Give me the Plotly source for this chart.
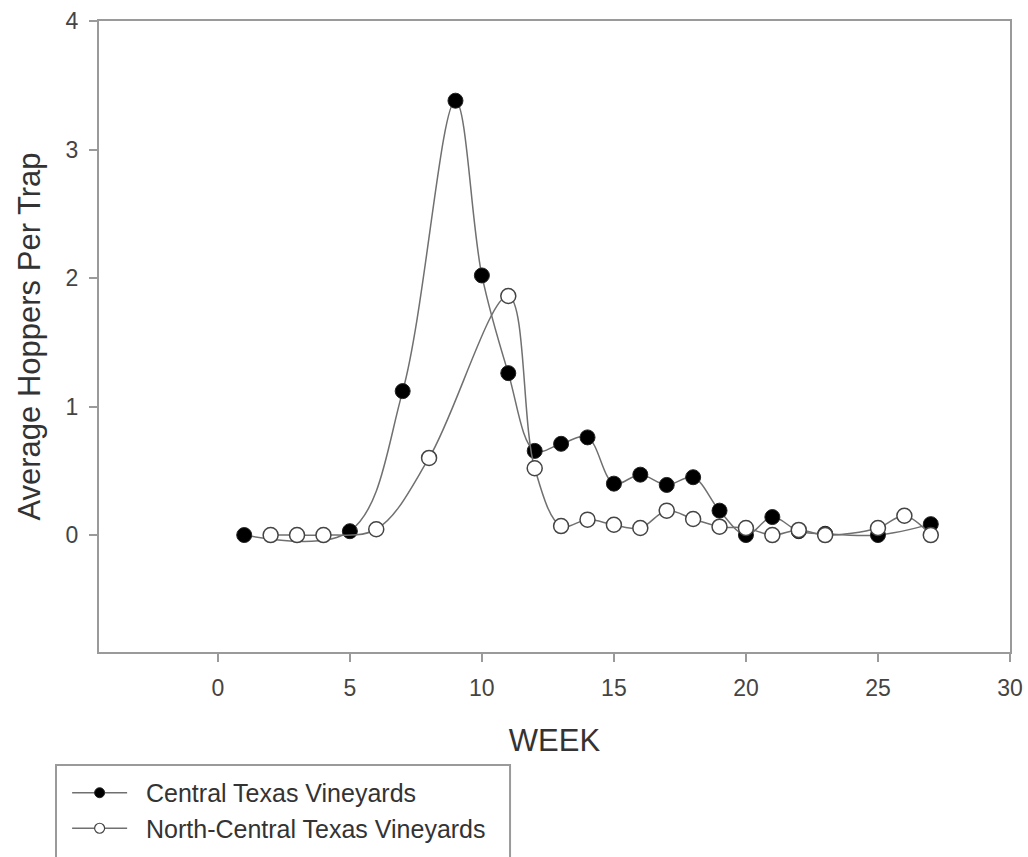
import plotly.graph_objects as go

# Central Texas Vineyards (filled circles)
central_weeks = [1, 5, 7, 9, 10, 11, 12, 13, 14, 15, 16, 17, 18, 19, 20, 21, 22, 23, 25, 27]
central_vals = [0.0, 0.03, 1.12, 3.38, 2.02, 1.26, 0.655, 0.71, 0.76, 0.40, 0.47, 0.39, 0.45, 0.19, 0.0, 0.14, 0.03, 0.01, 0.0, 0.085]

# North-Central Texas Vineyards (open circles)
north_weeks = [2, 3, 4, 6, 8, 11, 12, 13, 14, 15, 16, 17, 18, 19, 20, 21, 22, 23, 25, 26, 27]
north_vals = [0.0, 0.0, 0.0, 0.045, 0.60, 1.86, 0.52, 0.07, 0.12, 0.08, 0.055, 0.19, 0.125, 0.065, 0.055, 0.0, 0.04, 0.0, 0.055, 0.15, 0.0]

series_names = ["Central Texas Vineyards", "North-Central Texas Vineyards"]

x_ticks = [0, 5, 10, 15, 20, 25, 30]
y_ticks = [0, 1, 2, 3, 4]

LINE = "#707070"
AX = "#9a9a9a"
TXT = "#333333"
FONT = "Liberation Sans, Arial, sans-serif"
PAD = "\u00a0\u00a0"

fig = go.Figure()

fig.add_trace(go.Scatter(
    x=central_weeks, y=central_vals, mode="lines+markers",
    line=dict(color=LINE, width=1.5, shape="spline", smoothing=1.0),
    marker=dict(size=15, color="black", line=dict(color="#222222", width=1)),
    showlegend=False, name=series_names[0],
))
fig.add_trace(go.Scatter(
    x=north_weeks, y=north_vals, mode="lines+markers",
    line=dict(color=LINE, width=1.5, shape="spline", smoothing=1.0),
    marker=dict(size=15, color="white", line=dict(color="#444444", width=1.5)),
    showlegend=False, name=series_names[1],
))

# legend entries
fig.add_trace(go.Scatter(
    x=[None], y=[None], mode="lines+markers", name=PAD + series_names[0],
    line=dict(color=LINE, width=1.5),
    marker=dict(size=10, color="black", line=dict(color="#222222", width=1)),
))
fig.add_trace(go.Scatter(
    x=[None], y=[None], mode="lines+markers", name=PAD + series_names[1],
    line=dict(color=LINE, width=1.5),
    marker=dict(size=10, color="white", line=dict(color="#444444", width=1.2)),
))

fig.update_layout(
    width=1028, height=857,
    margin=dict(l=99, r=18, t=21, b=205, autoexpand=False),
    paper_bgcolor="white", plot_bgcolor="white",
    font=dict(family=FONT, color=TXT, size=22),
    xaxis=dict(
        range=[-4.5, 30], tickvals=x_ticks, ticks="outside", ticklen=8, tickwidth=2,
        tickcolor=AX, showline=True, linecolor=AX, linewidth=2, mirror=True,
        showgrid=False, zeroline=False, tickfont=dict(size=23, color="#444"),
        ticklabelstandoff=6,
        title=dict(text="WEEK", font=dict(size=31, color=TXT), standoff=30),
    ),
    yaxis=dict(
        range=[-0.91, 4.0], tickvals=y_ticks, ticks="outside", ticklen=8, tickwidth=2,
        tickcolor=AX, showline=True, linecolor=AX, linewidth=2, mirror=True,
        showgrid=False, zeroline=False, tickfont=dict(size=23, color="#444"),
        ticklabelstandoff=6,
        title=dict(text="Average Hoppers Per Trap", font=dict(size=31, color=TXT), standoff=16),
    ),
    legend=dict(
        x=-0.035, y=-0.187, xanchor="left", yanchor="top",
        bgcolor="rgba(0,0,0,0)", borderwidth=0,
        font=dict(size=25, color=TXT), itemwidth=55, tracegroupgap=0,
    ),
    shapes=[dict(
        type="rect", xref="paper", yref="paper",
        x0=-0.0472, x1=0.4512, y0=-0.1791, y1=-0.36,
        line=dict(color=AX, width=2), fillcolor="rgba(0,0,0,0)", layer="below",
    )],
)

fig.write_html(
    "out.html",
    config={"displayModeBar": False},
    post_script="document.body.style.margin='0';document.body.style.overflow='hidden';",
)
